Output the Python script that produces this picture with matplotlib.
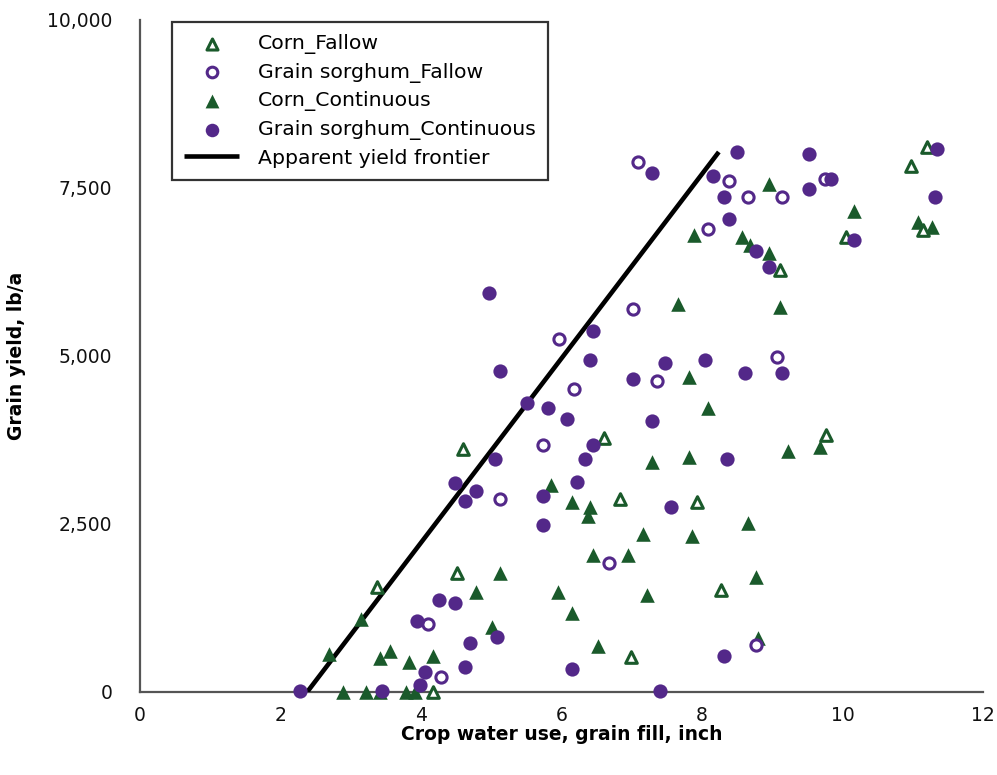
import matplotlib
matplotlib.use("Agg")
import matplotlib.pyplot as plt
from matplotlib.ticker import FuncFormatter

# crop water use (inch) and grain yield (lb/a)
corn_fallow_x = [4.60, 3.37, 4.51, 4.17, 6.60, 6.83, 7.93, 6.99, 8.27, 9.77,
                 9.11, 10.05, 10.98, 11.20, 11.15]
corn_fallow_y = [3616, 1563, 1771, 0, 3780, 2872, 2827, 521, 1518, 3824,
                 6280, 6771, 7827, 8110, 6875]

sorghum_fallow_x = [7.09, 8.38, 8.65, 9.14, 9.75, 8.09, 7.02, 7.36, 9.07, 5.96,
                    6.18, 5.74, 5.12, 6.68, 4.10, 4.28, 8.77]
sorghum_fallow_y = [7887, 7604, 7366, 7366, 7634, 6890, 5699, 4628, 4985, 5253,
                    4509, 3676, 2872, 1920, 1012, 223, 699]

corn_cont_x = [8.95, 10.16, 11.07, 11.27, 7.89, 8.57, 8.68, 8.95, 9.11, 7.66,
               7.81, 8.09, 7.29, 7.81, 9.22, 9.68, 8.65, 7.86, 8.77, 8.80,
               5.85, 6.15, 6.41, 6.38, 7.16, 6.45, 6.95, 5.12, 5.95, 7.22,
               4.78, 6.15, 5.01, 6.52, 3.15, 2.69, 3.56, 3.42, 3.83, 4.17,
               2.89, 3.22, 3.42, 3.79, 3.91]
corn_cont_y = [7560, 7158, 6994, 6920, 6801, 6771, 6652, 6533, 5729, 5774,
               4688, 4226, 3423, 3497, 3586, 3646, 2515, 2321, 1711, 804,
               3080, 2827, 2753, 2619, 2351, 2039, 2039, 1771, 1488, 1443,
               1488, 1176, 967, 685, 1086, 565, 610, 506, 446, 536,
               0, 0, 0, 0, 0]

sorghum_cont_x = [8.50, 9.52, 9.84, 11.35, 11.32, 7.29, 8.16, 8.31, 9.52, 8.38,
                  10.16, 8.77, 8.95, 7.47, 8.04, 7.02, 8.61, 9.14, 7.29, 8.36,
                  7.56, 4.97, 6.45, 6.41, 5.12, 5.51, 5.81, 6.08, 6.45, 6.33,
                  5.05, 6.22, 4.48, 4.78, 4.63, 5.74, 5.74, 4.26, 4.48, 3.94,
                  5.08, 4.70, 4.63, 4.06, 3.99, 2.28, 3.44, 6.15, 8.31, 7.40]
sorghum_cont_y = [8036, 8006, 7634, 8080, 7366, 7723, 7679, 7366, 7485, 7039,
                  6726, 6563, 6324, 4896, 4940, 4658, 4747, 4747, 4033, 3467,
                  2753, 5938, 5372, 4940, 4777, 4301, 4226, 4063, 3676, 3467,
                  3467, 3125, 3110, 2991, 2842, 2917, 2485, 1369, 1324, 1057,
                  818, 729, 372, 298, 104, 15, 15, 342, 536, 15]

frontier_x = [2.38, 8.24]
frontier_y = [0, 8036]

green = "#1a5a2b"
purple = "#532889"

plt.rcParams['font.family'] = ['DejaVu Sans']

fig = plt.figure(figsize=(9.97, 7.75), dpi=100)
ax = fig.add_axes([0.1404, 0.1071, 0.8455, 0.8671])

ax.plot(frontier_x, frontier_y, color="black", lw=3.3, zorder=3,
        solid_capstyle="butt", label="Apparent yield frontier")
ax.scatter(corn_cont_x, corn_cont_y, marker="^", s=110, color=green,
           linewidths=0, zorder=4, clip_on=False, label="Corn_Continuous")
ax.scatter(corn_fallow_x, corn_fallow_y, marker="^", s=70, facecolor="white",
           edgecolor=green, linewidths=2.2, zorder=5, clip_on=False,
           label="Corn_Fallow")
ax.scatter(sorghum_fallow_x, sorghum_fallow_y, marker="o", s=65, facecolor="white",
           edgecolor=purple, linewidths=2.2, zorder=5, clip_on=False,
           label="Grain sorghum_Fallow")
ax.scatter(sorghum_cont_x, sorghum_cont_y, marker="o", s=105, color=purple,
           linewidths=0, zorder=6, clip_on=False, label="Grain sorghum_Continuous")

ax.set_xlim(0, 12)
ax.set_ylim(0, 10000)
ax.set_xticks([0, 2, 4, 6, 8, 10, 12])
ax.set_yticks([0, 2500, 5000, 7500, 10000])
ax.yaxis.set_major_formatter(FuncFormatter(lambda v, p: f"{int(v):,}"))
ax.tick_params(length=0, labelsize=13.5, colors="#111111")
ax.tick_params(axis="x", pad=10)
ax.tick_params(axis="y", pad=20)

for side in ["top", "right"]:
    ax.spines[side].set_visible(False)
for side in ["left", "bottom"]:
    ax.spines[side].set_color("#555555")
    ax.spines[side].set_linewidth(1.6)

ax.set_xlabel("Crop water use, grain fill, inch", fontsize=13.5, fontweight="bold",
              labelpad=0)
ax.set_ylabel("Grain yield, lb/a", fontsize=13.5, fontweight="bold",
              labelpad=15)

handles, labels = ax.get_legend_handles_labels()
order = ["Corn_Fallow", "Grain sorghum_Fallow", "Corn_Continuous",
         "Grain sorghum_Continuous", "Apparent yield frontier"]
hmap = dict(zip(labels, handles))
leg = ax.legend([hmap[k] for k in order], order, loc="upper left",
                bbox_to_anchor=(0.038, 0.997), fontsize=14.7, frameon=True,
                fancybox=False, edgecolor="black", handlelength=2.7,
                labelspacing=0.42, borderpad=0.6, handletextpad=0.9,
                borderaxespad=0, markerscale=0.95)
leg.get_frame().set_linewidth(1.6)

fig.savefig("out.png", dpi=100)
